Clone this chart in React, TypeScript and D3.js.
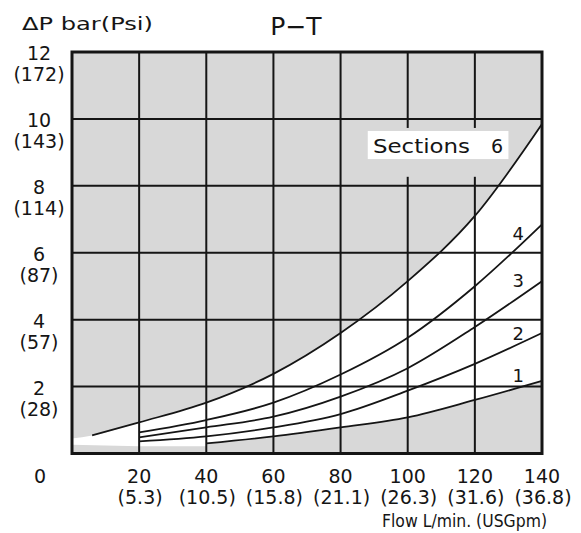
import React from "react";
import * as d3 from "d3";

// ---- data ----
const flowTicks = [0, 20, 40, 60, 80, 100, 120, 140];
const usgpmLabels = ["", "(5.3)", "(10.5)", "(15.8)", "(21.1)", "(26.3)", "(31.6)", "(36.8)"];
const barTicks = [0, 2, 4, 6, 8, 10, 12];
const psiLabels = ["", "(28)", "(57)", "(87)", "(114)", "(143)", "(172)"];

const flow6 = [6, 20, 40, 60, 80, 100, 120, 140];
const dp6 = [0.54, 0.93, 1.52, 2.38, 3.6, 5.15, 7.1, 9.85];
const flow4 = [20, 40, 60, 80, 100, 120, 140];
const dp4 = [0.63, 1.0, 1.52, 2.36, 3.46, 5.0, 6.85];
const flow3 = [20, 40, 60, 80, 100, 120, 140];
const dp3 = [0.48, 0.78, 1.1, 1.7, 2.55, 3.78, 5.15];
const flow2 = [20, 40, 60, 80, 100, 120, 140];
const dp2 = [0.36, 0.51, 0.78, 1.18, 1.88, 2.68, 3.6];
const flow1 = [40, 60, 80, 100, 120, 140];
const dp1 = [0.3, 0.51, 0.78, 1.08, 1.6, 2.17];

// white operating band edges beyond the curves (bottom-left sliver)
const bandLeftFlow = [0];
const bandLeftTop = [0.45];
const bandFloorFlow = [0, 20, 40];
const bandFloorDp = [0.26, 0.22, 0.22];

const curveLabels = ["4", "3", "2", "1"];
const curveLabelFlow = [132.9, 132.9, 132.9, 132.9];
const curveLabelDp = [6.38, 4.98, 3.39, 2.14];

const W = 581;
const H = 533;

export default function App() {
  const x = d3.scaleLinear().domain([0, 140]).range([72, 542]);
  const y = d3.scaleLinear().domain([0, 12]).range([453.5, 52]);

  const zip = (a: number[], b: number[]) => a.map((v, i) => [v, b[i]] as [number, number]);
  const line = d3
    .line<[number, number]>()
    .x((d) => x(d[0]))
    .y((d) => y(d[1]))
    .curve(d3.curveMonotoneX);
  const areaSmooth = d3
    .area<[number, number]>()
    .x((d) => x(d[0]))
    .y0(y(0))
    .y1((d) => y(d[1]))
    .curve(d3.curveMonotoneX);
  const areaLinear = d3
    .area<[number, number]>()
    .x((d) => x(d[0]))
    .y0(y(0))
    .y1((d) => y(d[1]))
    .curve(d3.curveLinear);

  const c6 = zip(flow6, dp6);
  const curves = [c6, zip(flow4, dp4), zip(flow3, dp3), zip(flow2, dp2), zip(flow1, dp1)];
  const upper = [...zip(bandLeftFlow, bandLeftTop), ...c6];

  const grey = "#d8d8d8";
  const ink = "#151515";
  const font = "'DejaVu Sans', sans-serif";

  // label box / grid mask in data coordinates
  const maskX0 = 86, maskX1 = 126.6, maskY0 = 9.73, maskY1 = 8.27;
  const boxX0 = 88.1, boxX1 = 130, boxY0 = 9.64, boxY1 = 8.8;

  return (
    <svg
      width={W}
      height={H}
      viewBox={`0 0 ${W} ${H}`}
      style={{ position: "absolute", left: 0, top: 0, background: "#fff" }}
    >
      <rect x={0} y={0} width={W} height={H} fill="#fff" />
      {/* plot background */}
      <rect x={x(0)} y={y(12)} width={x(140) - x(0)} height={y(0) - y(12)} fill={grey} />
      {/* white band under curve 6 */}
      <path d={areaSmooth(upper) || ""} fill="#fff" />
      {/* grey below lower edge */}
      <path d={areaLinear(zip(bandFloorFlow, bandFloorDp)) || ""} fill={grey} />
      <path d={areaSmooth(zip(flow1, dp1)) || ""} fill={grey} />

      {/* grid */}
      {flowTicks.slice(1, -1).map((f) => (
        <line key={"vx" + f} x1={x(f)} x2={x(f)} y1={y(0)} y2={y(12)} stroke={ink} strokeWidth={2} />
      ))}
      {barTicks.slice(1, -1).map((b) => (
        <line key={"hy" + b} x1={x(0)} x2={x(140)} y1={y(b)} y2={y(b)} stroke={ink} strokeWidth={2} />
      ))}
      {/* grid mask behind label */}
      <rect x={x(maskX0)} y={y(maskY0)} width={x(maskX1) - x(maskX0)} height={y(maskY1) - y(maskY0)} fill={grey} />
      <rect x={x(boxX0)} y={y(boxY0)} width={x(boxX1) - x(boxX0)} height={y(boxY1) - y(boxY0)} fill="#fff" />

      {/* curves */}
      {curves.map((c, i) => (
        <path key={"c" + i} d={line(c) || ""} fill="none" stroke={ink} strokeWidth={1.8} />
      ))}

      {/* border */}
      <rect
        x={x(0)}
        y={y(12)}
        width={x(140) - x(0)}
        height={y(0) - y(12)}
        fill="none"
        stroke={ink}
        strokeWidth={3}
      />

      {/* section labels */}
      <text x={373} y={153} fontFamily={font} fontSize={19} fill={ink} textLength={97} lengthAdjust="spacingAndGlyphs">
        Sections
      </text>
      <text x={497} y={153} fontFamily={font} fontSize={19} fill={ink} textAnchor="middle">
        6
      </text>
      {curveLabels.map((l, i) => (
        <text
          key={"cl" + l}
          x={x(curveLabelFlow[i])}
          y={y(curveLabelDp[i])}
          fontFamily={font}
          fontSize={18}
          fill={ink}
          textAnchor="middle"
        >
          {l}
        </text>
      ))}

      {/* y axis labels */}
      {barTicks.map((b, i) =>
        b === 0 ? null : (
          <g key={"yl" + b}>
            <text x={39} y={y(b) + 8} fontFamily={font} fontSize={19} fill={ink} textAnchor="middle">
              {b}
            </text>
            <text x={39} y={y(b) + 29} fontFamily={font} fontSize={19} fill={ink} textAnchor="middle">
              {psiLabels[i]}
            </text>
          </g>
        )
      )}
      <text x={40} y={483} fontFamily={font} fontSize={19} fill={ink} textAnchor="middle">
        0
      </text>

      {/* x axis labels */}
      {flowTicks.map((f, i) =>
        f === 0 ? null : (
          <g key={"xl" + f}>
            <text x={x(f)} y={483} fontFamily={font} fontSize={19} fill={ink} textAnchor="middle">
              {f}
            </text>
            <text x={x(f) + 1} y={504} fontFamily={font} fontSize={19} fill={ink} textAnchor="middle">
              {usgpmLabels[i]}
            </text>
          </g>
        )
      )}

      {/* titles */}
      <text x={22} y={30} fontFamily={font} fontSize={18} fill={ink} textLength={131} lengthAdjust="spacingAndGlyphs">
        ΔP bar(Psi)
      </text>
      <text x={296} y={35} fontFamily={font} fontSize={25} fill={ink} textAnchor="middle">
        P−T
      </text>
      <text
        x={547}
        y={527}
        fontFamily={font}
        fontSize={18}
        fill={ink}
        textAnchor="end"
        textLength={165}
        lengthAdjust="spacingAndGlyphs"
      >
        Flow L/min. (USGpm)
      </text>
    </svg>
  );
}
